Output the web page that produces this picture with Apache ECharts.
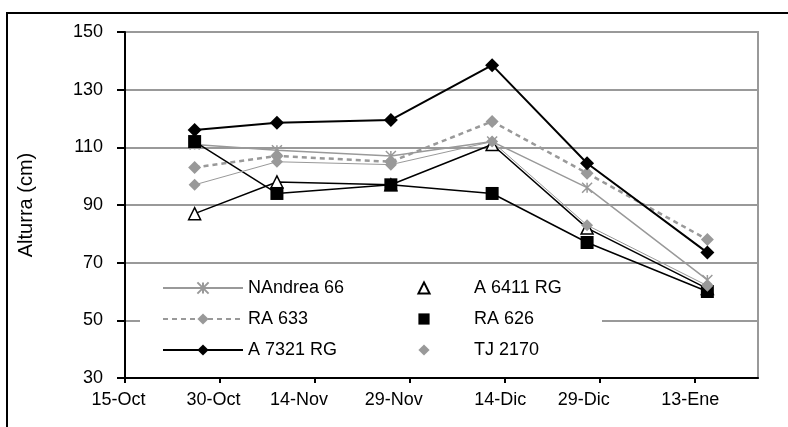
<!DOCTYPE html>
<html>
<head>
<meta charset="utf-8">
<script src="https://cdn.jsdelivr.net/npm/echarts@6/dist/echarts.min.js"></script>
<style>
html,body{margin:0;padding:0;background:#fff;}
#chart{width:788px;height:427px;}
</style>
</head>
<body>
<div id="chart"></div>
<script>
// Days after 15-Oct for the sample dates
const sampleDays = [11, 24, 42, 58, 73, 92];
const tickDays = [0, 15, 30, 45, 60, 75, 90];
const tickLabels = ['15-Oct', '30-Oct', '14-Nov', '29-Nov', '14-Dic', '29-Dic', '13-Ene'];
const yTicks = [30, 50, 70, 90, 110, 130, 150];

const nandrea66 = [111, 109, 107, 112, 96, 64];
const a6411rg   = [87, 98, 97, 111, 82, 61];
const ra633     = [103, 107, 105, 119, 101, 78];
const ra626     = [112, 94, 97, 94, 77, 60];
const a7321rg   = [116, 118.5, 119.5, 138.5, 104.5, 73.5];
const tj2170    = [97, 105, 104, 112, 83, 62];

const FONT = 'Liberation Sans, Arial, sans-serif';
const GRAY = '#999999';

function pairs(vals) { return vals.map((v, i) => [sampleDays[i], v]); }

const chart = echarts.init(document.getElementById('chart'));

const labelShift = { '15-Oct': 'a', '30-Oct': 'a', '14-Nov': 'b', '29-Nov': 'b', '14-Dic': 'c', '29-Dic': 'b', '13-Ene': 'c' };

chart.setOption({
  animation: false,
  backgroundColor: '#fff',
  textStyle: { fontFamily: FONT },
  grid: {
    left: 125, right: 30, top: 32, bottom: 49,
    show: true, borderColor: GRAY, borderWidth: 2, backgroundColor: 'transparent'
  },
  graphic: [
    { type: 'rect', z: 100, silent: true,
      shape: { x: 7, y: 13, width: 820, height: 460 },
      style: { fill: 'none', stroke: '#000', lineWidth: 2 } },
    { type: 'rect', z: 1, silent: true,
      shape: { x: 140, y: 268, width: 462, height: 107 },
      style: { fill: '#fff' } }
  ],
  xAxis: {
    type: 'value', min: 0, max: 100,
    axisLine: { show: true, lineStyle: { color: '#000', width: 2 } },
    axisTick: { show: true, length: 5, lineStyle: { color: '#000', width: 2 }, customValues: tickDays },
    splitLine: { show: false },
    axisLabel: {
      customValues: tickDays,
      margin: 13,
      color: '#000', fontSize: 18, fontFamily: FONT,
      formatter: function (v) {
        const i = tickDays.indexOf(v);
        if (i < 0) return '';
        const t = tickLabels[i];
        return '{' + labelShift[t] + '|' + t + '}';
      },
      rich: {
        a: { fontSize: 18, fontFamily: FONT, color: '#000', padding: [0, 13, 0, 0] },
        b: { fontSize: 18, fontFamily: FONT, color: '#000', padding: [0, 32, 0, 0] },
        c: { fontSize: 18, fontFamily: FONT, color: '#000', padding: [0, 9, 0, 0] }
      }
    }
  },
  yAxis: {
    type: 'value', min: 30, max: 150, interval: 20,
    name: 'Alturra (cm)', nameLocation: 'middle', nameGap: 89,
    nameTextStyle: { fontSize: 20, fontFamily: FONT, color: '#000' },
    axisLine: { show: true, lineStyle: { color: '#000', width: 2 } },
    axisTick: { show: true, length: 8, lineStyle: { color: '#000', width: 2 } },
    splitLine: { show: true, lineStyle: { color: GRAY, width: 2 } },
    axisLabel: { color: '#000', fontSize: 18, fontFamily: FONT, margin: 22,
      formatter: function (v) { return yTicks.indexOf(v) >= 0 ? String(v) : ''; } }
  },
  legend: [
    {
      orient: 'vertical', left: 157, top: 274, itemWidth: 80, itemHeight: 14, itemGap: 13,
      textStyle: { fontSize: 18, fontFamily: FONT, color: '#000' },
      data: ['NAndrea 66', 'RA 633', 'A 7321 RG']
    },
    {
      orient: 'vertical', left: 373, top: 274, itemWidth: 90, itemHeight: 14, itemGap: 13,
      textStyle: { fontSize: 18, fontFamily: FONT, color: '#000' },
      data: [
        { name: 'A 6411 RG', lineStyle: { opacity: 0 } },
        { name: 'RA 626', lineStyle: { opacity: 0 } },
        { name: 'TJ 2170', lineStyle: { opacity: 0 } }
      ]
    }
  ],
  series: [
    {
      name: 'NAndrea 66', type: 'line', data: pairs(nandrea66), z: 2,
      symbol: 'path://M0,0L10,10M10,0L0,10M5,0L5,10', symbolSize: 10,
      lineStyle: { color: GRAY, width: 1.5 },
      itemStyle: { color: GRAY, borderColor: GRAY, borderWidth: 1.5 }
    },
    {
      name: 'A 6411 RG', type: 'line', data: pairs(a6411rg), z: 3,
      symbol: 'triangle', symbolSize: 12,
      lineStyle: { color: '#000', width: 1.5 },
      itemStyle: { color: '#fff', borderColor: '#000', borderWidth: 1.5 }
    },
    {
      name: 'RA 633', type: 'line', data: pairs(ra633), z: 3,
      symbol: 'diamond', symbolSize: 13,
      lineStyle: { color: GRAY, width: 2.5, type: [5, 4] },
      itemStyle: { color: GRAY }
    },
    {
      name: 'RA 626', type: 'line', data: pairs(ra626), z: 4,
      symbol: 'rect', symbolSize: 13,
      lineStyle: { color: '#000', width: 1.5 },
      itemStyle: { color: '#000' }
    },
    {
      name: 'A 7321 RG', type: 'line', data: pairs(a7321rg), z: 4,
      symbol: 'diamond', symbolSize: 14,
      lineStyle: { color: '#000', width: 2 },
      itemStyle: { color: '#000' }
    },
    {
      name: 'TJ 2170', type: 'line', data: pairs(tj2170), z: 4,
      symbol: 'diamond', symbolSize: 12,
      lineStyle: { color: GRAY, width: 1 },
      itemStyle: { color: GRAY }
    }
  ]
});
</script>
</body>
</html>
